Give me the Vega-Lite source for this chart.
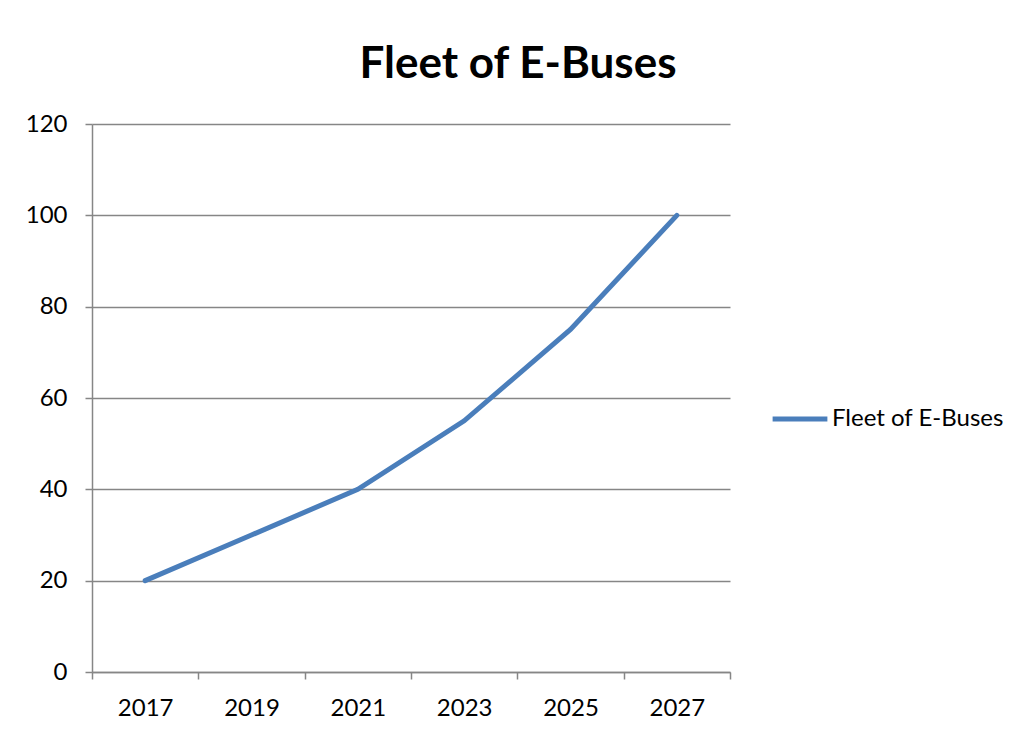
{
  "$schema": "https://vega.github.io/schema/vega-lite/v6.json",
  "autosize": "none",
  "width": 638,
  "height": 548,
  "padding": {"left": 92, "top": 124, "right": 284, "bottom": 59},
  "background": "white",
  "title": {
    "text": "Fleet of E-Buses",
    "font": "Lato",
    "fontSize": 44,
    "fontWeight": "bold",
    "color": "#000000",
    "anchor": "middle",
    "dx": 107,
    "offset": -10,
    "baseline": "alphabetic"
  },
  "data": {
    "values": [
      {"year": 2017, "value": 20, "series": "Fleet of E-Buses"},
      {"year": 2019, "value": 30, "series": "Fleet of E-Buses"},
      {"year": 2021, "value": 40, "series": "Fleet of E-Buses"},
      {"year": 2023, "value": 55, "series": "Fleet of E-Buses"},
      {"year": 2025, "value": 75, "series": "Fleet of E-Buses"},
      {"year": 2027, "value": 100, "series": "Fleet of E-Buses"}
    ]
  },
  "mark": {"type": "line", "strokeWidth": 5, "strokeCap": "round"},
  "encoding": {
    "x": {
      "field": "year",
      "type": "quantitative",
      "scale": {"domain": [2016, 2028], "nice": false, "zero": false},
      "axis": {
        "title": null,
        "values": [2016, 2017, 2018, 2019, 2020, 2021, 2022, 2023, 2024, 2025, 2026, 2027, 2028],
        "format": "d",
        "labelExpr": "datum.value % 2 == 0 ? '' : datum.label",
        "tickColor": {"condition": {"test": "datum.value % 2 == 1", "value": "transparent"}, "value": "#868686"},
        "grid": false,
        "domainColor": "#868686",
        "domainWidth": 1.5,
        "tickSize": 7,
        "tickWidth": 1.5,
        "labelFont": "Lato",
        "labelFontSize": 24,
        "labelColor": "#000000",
        "labelPadding": 17,
        "labelFlush": false,
        "labelOverlap": false
      }
    },
    "y": {
      "field": "value",
      "type": "quantitative",
      "scale": {"domain": [0, 120], "nice": false},
      "axis": {
        "title": null,
        "values": [0, 20, 40, 60, 80, 100, 120],
        "grid": true,
        "gridColor": "#868686",
        "gridWidth": 1.5,
        "domainColor": "#868686",
        "domainWidth": 1.5,
        "tickColor": "#868686",
        "tickSize": 7,
        "tickWidth": 1.5,
        "labelFont": "Lato",
        "labelFontSize": 24,
        "labelColor": "#000000",
        "labelPadding": 18
      }
    },
    "color": {
      "field": "series",
      "type": "nominal",
      "scale": {"range": ["#4A7EBB"]},
      "legend": {
        "title": null,
        "orient": "none",
        "legendX": 678,
        "legendY": 265,
        "symbolType": "stroke",
        "symbolSize": 3000,
        "symbolStrokeWidth": 5,
        "labelFont": "Lato",
        "labelFontSize": 24,
        "labelColor": "#000000",
        "labelOffset": 2,
        "labelLimit": 400
      }
    }
  },
  "config": {"view": {"stroke": null}}
}
